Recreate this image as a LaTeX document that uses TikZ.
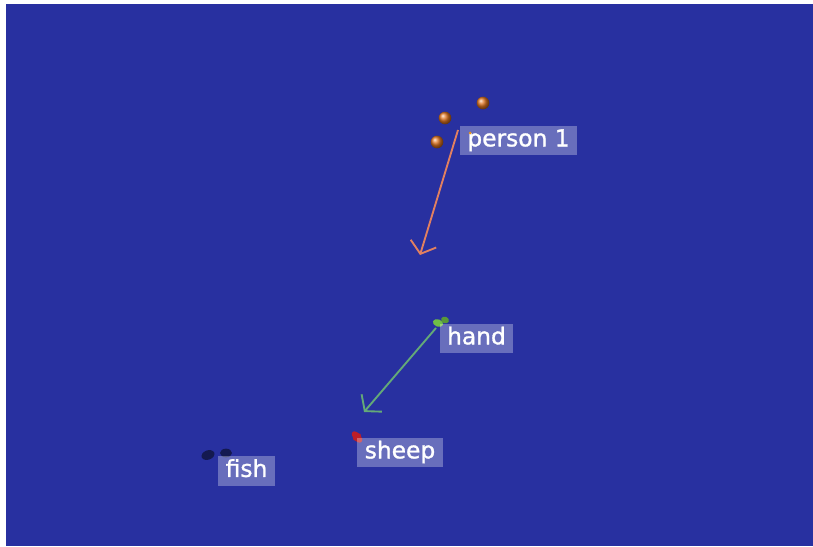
\documentclass[tikz,border=0pt]{standalone}
\usepackage{fontspec}
\setmainfont{DejaVu Sans}
\newfontfamily\lblfont[FakeBold=1.2]{DejaVu Sans}
\usetikzlibrary{arrows.meta,shapes.geometric}
\definecolor{bgblue}{RGB}{40,48,160}
\definecolor{orangedot}{RGB}{225,118,35}
\definecolor{orangeline}{RGB}{226,128,96}
\definecolor{greenline}{RGB}{100,170,120}
\definecolor{greenblob}{RGB}{110,190,70}
\definecolor{redblob}{RGB}{190,30,40}
\definecolor{fishblob}{RGB}{20,25,80}
\begin{document}
\begin{tikzpicture}[x=0.75pt,y=-0.75pt,
  lbl/.style={fill=white,fill opacity=0.3,text opacity=1,text=white,
    font=\lblfont\fontsize{17.5pt}{20pt}\selectfont,inner xsep=5.5pt,inner ysep=2.3pt,
    text height=13pt,text depth=4.2pt,anchor=center},
  odot/.style={circle,inner sep=0pt,minimum size=9.5pt,shading=ball,ball color=orangedot},
  ptr/.style={line width=1.4pt,-{Straight Barb[length=8pt,width=20pt]}}]
\useasboundingbox (0,0) rectangle (813,546);
\fill[white] (0,0) rectangle (813,546);
\fill[bgblue] (6,4) rectangle (813,546);
% person 1
\node[odot] (pd1) at (483,103) {};
\node[odot] (pd2) at (445,118) {};
\node[odot] (pd3) at (437,142) {};
\node[lbl] (person) at (518.5,140.5) {person 1};
\fill[orangedot!80!yellow] (470,133) circle (1.5);
\coordinate (po) at (458,130);
\coordinate (pe) at (420,255);
\draw[ptr,orangeline] (po) -- (pe);
% hand
\node[ellipse,inner sep=0pt,minimum width=8pt,minimum height=5.5pt,fill=greenblob,rotate=-20] (hb) at (438,323) {};
\node[ellipse,inner sep=0pt,minimum width=6pt,minimum height=5pt,fill=greenblob!80!black,rotate=-20] (hb2) at (445,320) {};
\node[lbl] (hand) at (476.5,338.5) {hand};
\coordinate (ho) at (436,328);
\coordinate (he) at (364,412);
\draw[ptr,greenline] (ho) -- (he);
% sheep
\node[ellipse,inner sep=0pt,minimum width=10pt,minimum height=5.5pt,fill=redblob,rotate=-50] (sb) at (357,437) {};
\node[ellipse,inner sep=0pt,minimum width=7pt,minimum height=4.5pt,fill=redblob,rotate=40] (sb2) at (357,437) {};
\node[lbl] (sheep) at (400,452.5) {sheep};
% fish
\node[ellipse,inner sep=0pt,minimum width=10pt,minimum height=7pt,fill=fishblob,rotate=20] (fb1) at (208,455) {};
\node[ellipse,inner sep=0pt,minimum width=9pt,minimum height=6.5pt,fill=fishblob] (fb2) at (226,453) {};
\node[lbl] (fish) at (246.5,471) {fish};
\end{tikzpicture}
\end{document}
